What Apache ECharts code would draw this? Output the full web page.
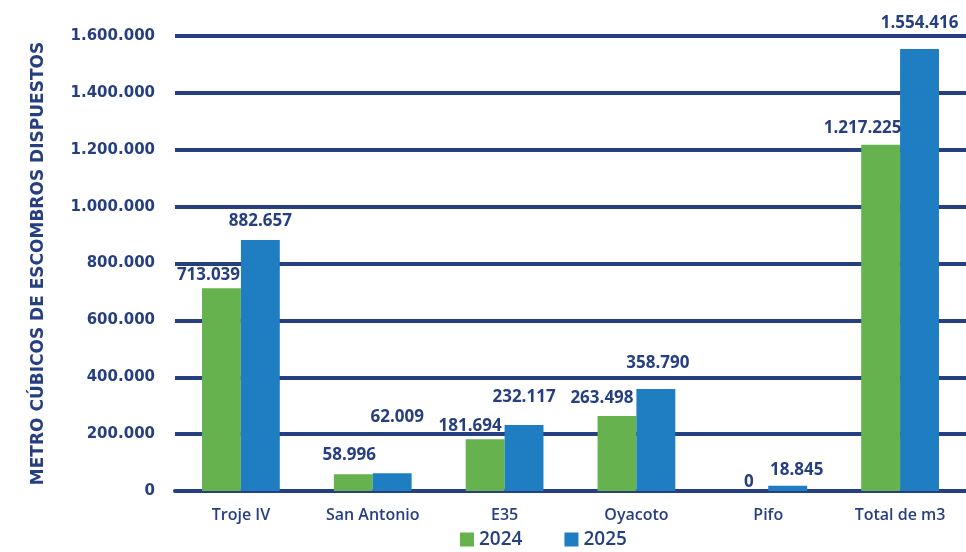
<!DOCTYPE html>
<html>
<head>
<meta charset="utf-8">
<script src="https://cdn.jsdelivr.net/npm/echarts@6/dist/echarts.min.js"></script>
<style>
  html, body { margin: 0; padding: 0; background: #fff; }
  #chart { width: 966px; height: 552px; }
</style>
</head>
<body>
<div id="chart"></div>
<script>
// datos
var categorias = ["Troje IV", "San Antonio", "E35", "Oyacoto", "Pifo", "Total de m3"];
var valores2024 = [713039, 58996, 181694, 263498, 0, 1217225];
var valores2025 = [882657, 62009, 232117, 358790, 18845, 1554416];

// ajuste manual de etiquetas (como en el original)
var offsets2024 = [[-13, 0], [-4, -6], [-15, 0], [-15, -4], [0, 5], [-18, -3]];
var offsets2025 = [[0, -5], [5, -43], [0, -14], [2, -12], [9, -2], [0, -12]];

var azul = "#263f80";
var fuente = "'Open Sans', sans-serif";
var fuenteAncha = "'DejaVu Sans', sans-serif";

function formato(v) {
  return String(Math.round(v)).replace(/\B(?=(\d{3})+(?!\d))/g, ".");
}

function conEtiqueta(valores, offs) {
  return valores.map(function (v, i) {
    return { value: v, label: { offset: offs[i] } };
  });
}

var myChart = echarts.init(document.getElementById("chart"));

var etiqueta = {
  show: true,
  position: "top",
  distance: 5,
  color: azul,
  fontFamily: fuente,
  fontWeight: "bold",
  fontSize: 17,
  formatter: function (p) { return formato(p.value); }
};

var option = {
  animation: false,
  grid: { left: 175, right: 0, top: 36, bottom: 61 },
  legend: {
    top: 530,
    left: 460,
    padding: 0,
    itemWidth: 14,
    itemHeight: 14,
    itemGap: 42,
    icon: "rect",
    textStyle: { color: azul, fontFamily: fuente, fontSize: 19, fontWeight: 600 },
    data: ["2024", "2025"]
  },
  xAxis: {
    type: "category",
    data: categorias,
    axisTick: { show: false },
    axisLine: { lineStyle: { color: azul, width: 4 } },
    axisLabel: { color: azul, fontFamily: fuente, fontSize: 16, fontWeight: 600, margin: 16 }
  },
  yAxis: {
    type: "value",
    min: 0,
    max: 1600000,
    interval: 200000,
    name: "METRO CÚBICOS DE ESCOMBROS DISPUESTOS",
    nameLocation: "middle",
    nameGap: 128,
    nameRotate: 90,
    nameTextStyle: { color: azul, fontFamily: fuenteAncha, fontSize: 17, fontWeight: "bold" },
    axisLine: { show: false },
    axisTick: { show: false },
    axisLabel: {
      color: azul, fontFamily: fuenteAncha, fontSize: 15, fontWeight: "bold", margin: 20,
      formatter: function (v) { return formato(v); }
    },
    splitLine: { lineStyle: { color: azul, width: 4 } }
  },
  series: [
    {
      name: "2024",
      type: "bar",
      barGap: 0,
      barCategoryGap: "41%",
      itemStyle: { color: "#66b24e" },
      label: etiqueta,
      data: conEtiqueta(valores2024, offsets2024)
    },
    {
      name: "2025",
      type: "bar",
      itemStyle: { color: "#1f7dc1" },
      label: etiqueta,
      data: conEtiqueta(valores2025, offsets2025)
    }
  ]
};

myChart.setOption(option);
</script>
</body>
</html>
